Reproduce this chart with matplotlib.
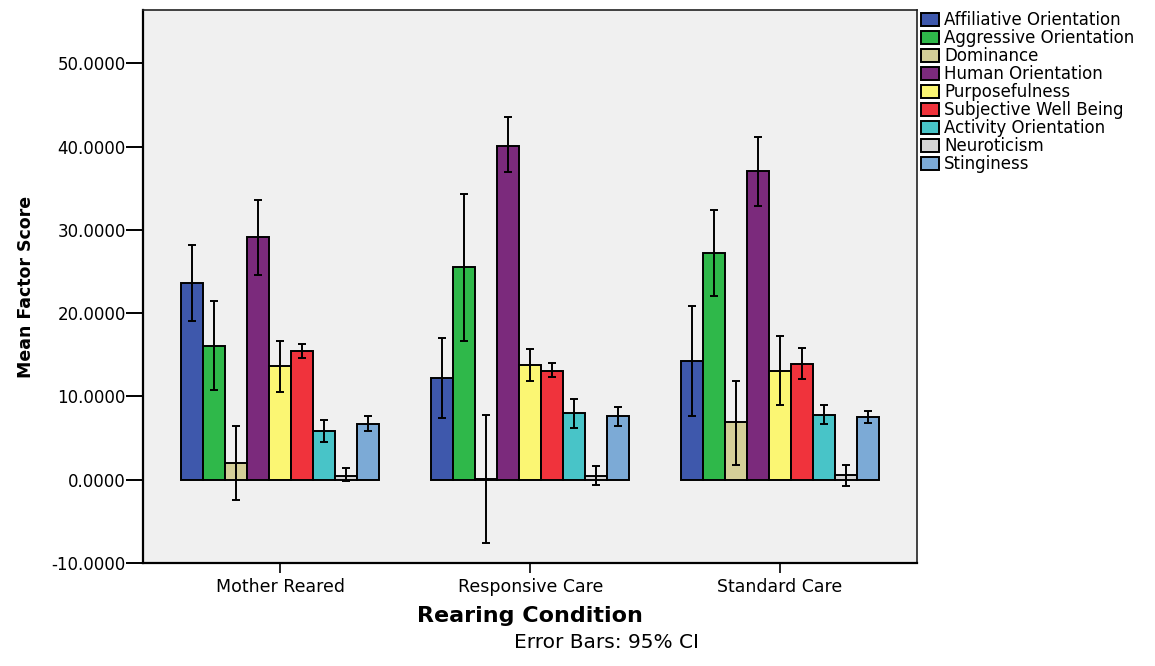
import numpy as np
import matplotlib
matplotlib.use('Agg')
import matplotlib.pyplot as plt

conditions = ['Mother Reared', 'Responsive Care', 'Standard Care']
factors = ['Affiliative Orientation', 'Aggressive Orientation', 'Dominance',
           'Human Orientation', 'Purposefulness', 'Subjective Well Being',
           'Activity Orientation', 'Neuroticism', 'Stinginess']
colors = ['#3E58AC', '#2FB84A', '#D4CF98', '#7B2A7C', '#FBF673',
          '#F0333C', '#48C4C8', '#D6D6D6', '#7CAAD6']

# means per factor: [Mother Reared, Responsive Care, Standard Care]
means = {
    'Affiliative Orientation': [23.6, 12.2, 14.3],
    'Aggressive Orientation': [16.1, 25.5, 27.2],
    'Dominance': [2.0, 0.12, 6.9],
    'Human Orientation': [29.1, 40.1, 37.1],
    'Purposefulness': [13.6, 13.8, 13.1],
    'Subjective Well Being': [15.5, 13.1, 13.9],
    'Activity Orientation': [5.8, 8.0, 7.8],
    'Neuroticism': [0.5, 0.5, 0.6],
    'Stinginess': [6.7, 7.6, 7.5],
}
ci_low = {
    'Affiliative Orientation': [19.0, 7.4, 7.7],
    'Aggressive Orientation': [10.8, 16.7, 22.1],
    'Dominance': [-2.4, -7.6, 1.8],
    'Human Orientation': [24.6, 36.9, 32.9],
    'Purposefulness': [10.5, 11.9, 9.0],
    'Subjective Well Being': [14.6, 12.3, 12.1],
    'Activity Orientation': [4.5, 6.2, 6.7],
    'Neuroticism': [-0.2, -0.6, -0.7],
    'Stinginess': [5.8, 6.5, 6.8],
}
ci_high = {
    'Affiliative Orientation': [28.2, 17.0, 20.9],
    'Aggressive Orientation': [21.4, 34.3, 32.4],
    'Dominance': [6.4, 7.8, 11.9],
    'Human Orientation': [33.6, 43.5, 41.2],
    'Purposefulness': [16.7, 15.7, 17.2],
    'Subjective Well Being': [16.3, 14.0, 15.8],
    'Activity Orientation': [7.2, 9.7, 9.0],
    'Neuroticism': [1.4, 1.7, 1.8],
    'Stinginess': [7.6, 8.7, 8.2],
}

plt.rcParams['font.family'] = 'DejaVu Sans'

fig = plt.figure(figsize=(11.55, 6.66), dpi=100)
ax = fig.add_axes([143 / 1155, 1 - 563 / 666, 774 / 1155, 553 / 666])
ax.set_facecolor('#F0F0F0')

x = np.arange(len(conditions))
w = 0.088
for i, f in enumerate(factors):
    m = np.array(means[f])
    lo = np.array(ci_low[f])
    hi = np.array(ci_high[f])
    pos = x + (i - 4) * w
    ax.bar(pos, m, width=w, color=colors[i], edgecolor='black', linewidth=1.4,
           label=f, zorder=2)
    ax.errorbar(pos, m, yerr=[m - lo, hi - m], fmt='none', ecolor='black',
                elinewidth=1.4, capsize=3, capthick=1.4, zorder=3)

ax.set_xlim(-0.55, 2.548)
ax.set_ylim(-10, 56.4)
ax.set_yticks([-10, 0, 10, 20, 30, 40, 50])
ax.set_yticklabels(['%.4f' % v for v in [-10, 0, 10, 20, 30, 40, 50]], fontsize=12)
ax.set_xticks(x)
ax.set_xticklabels(conditions, fontsize=12.5)
ax.tick_params(axis='y', length=12, width=1.4, pad=0.5)
ax.tick_params(axis='x', length=7, width=1.2, pad=4)
for s in ['left', 'bottom']:
    ax.spines[s].set_linewidth(1.6)
for s in ['top', 'right']:
    ax.spines[s].set_linewidth(1.2)
    ax.spines[s].set_color('#222222')

ax.set_xlabel('Rearing Condition', fontsize=16, fontweight='bold', labelpad=7)
ax.set_ylabel('Mean Factor Score', fontsize=12.5, fontweight='bold')
ax.yaxis.set_label_coords(-0.14, 0.5)

fig.text(606 / 1155, 1 - 642 / 666, 'Error Bars: 95% CI', fontsize=14.5,
         ha='center', va='center')

ax.legend(loc='upper left', bbox_to_anchor=(921 / 1155, 1 - 11 / 666),
          bbox_transform=fig.transFigure, frameon=False, fontsize=12,
          borderpad=0, borderaxespad=0, labelspacing=0.0,
          handlelength=1.08, handleheight=0.84, handletextpad=0.3)

fig.savefig('out.png', dpi=100)
plt.close()
